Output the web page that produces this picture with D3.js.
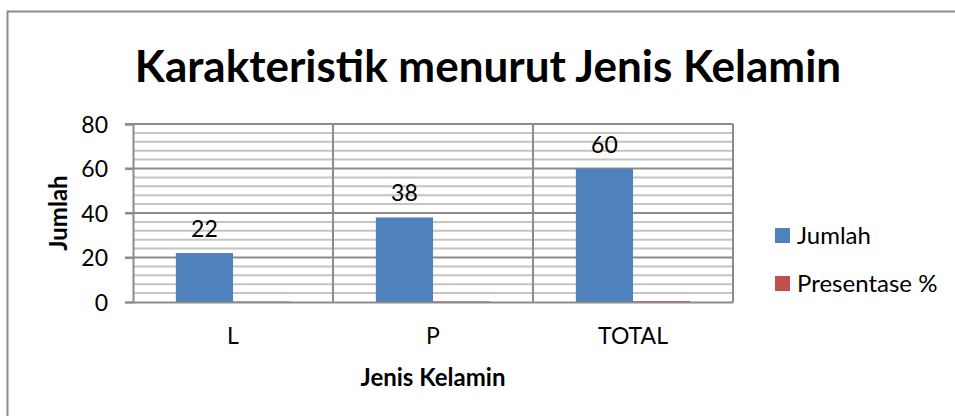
<!DOCTYPE html>
<html>
<head>
<meta charset="utf-8">
<script src="https://cdn.jsdelivr.net/npm/d3@7"></script>
<style>
  body { margin: 0; background: #fff; }
  svg text { font-family: Lato, "Liberation Sans", sans-serif; fill: #000; }
</style>
</head>
<body>
<div id="chart"></div>
<script>
// Data
var categories = ["L", "P", "TOTAL"];
var seriesNames = ["Jumlah", "Presentase %"];
var jumlah = [22, 38, 60];
var presentase = [0.2, 0.3, 0.4];   // tiny, barely visible at baseline
var yTicks = [0, 20, 40, 60, 80];
var colors = ["#4F81BD", "#C0504D"];

var W = 955, H = 416;
var margin = { top: 124, left: 133, right: 222, bottom: 114 };
var width = W - margin.left - margin.right,   // 600
  height = H - margin.top - margin.bottom;    // 178

var svg = d3.select("#chart")
  .append("svg")
  .attr("width", W)
  .attr("height", H);

// chart border
svg.append("rect")
  .attr("x", 7.5).attr("y", 11.5)
  .attr("width", W + 10).attr("height", H + 10)
  .attr("fill", "none")
  .attr("stroke", "#8c8c8c")
  .attr("stroke-width", 2);

// title
svg.append("text")
  .attr("x", 488)
  .attr("y", 82)
  .attr("text-anchor", "middle")
  .style("font-size", "44px")
  .style("font-weight", "bold")
  .text("Karakteristik menurut Jenis Kelamin");

var g = svg.append("g")
  .attr("transform", "translate(" + margin.left + "," + margin.top + ")");

var x0 = d3.scaleBand().domain(categories).range([0, width]).padding(0);
var x1 = d3.scaleBand().domain(seriesNames)
  .range([0, x0.bandwidth()])
  .paddingInner(0).paddingOuter(0.75);
var y = d3.scaleLinear().domain([0, 80]).range([height, 0]);

// minor gridlines every 4
var minor = d3.range(4, 80, 4).filter(function (v) { return v % 20 !== 0; });
g.selectAll(".minor")
  .data(minor)
  .enter().append("line")
  .attr("x1", 0).attr("x2", width)
  .attr("y1", function (d) { return y(d); })
  .attr("y2", function (d) { return y(d); })
  .attr("stroke", "#c4c4c4")
  .attr("stroke-width", 2);

// major gridlines
g.selectAll(".major")
  .data(yTicks.filter(function (d) { return d > 0; }))
  .enter().append("line")
  .attr("x1", -8).attr("x2", width)
  .attr("y1", function (d) { return y(d); })
  .attr("y2", function (d) { return y(d); })
  .attr("stroke", "#8c8c8c")
  .attr("stroke-width", 2);

// vertical category gridlines
g.selectAll(".vgrid")
  .data(categories.slice(1).concat(["end"]))
  .enter().append("line")
  .attr("x1", function (d, i) { return x0.bandwidth() * (i + 1); })
  .attr("x2", function (d, i) { return x0.bandwidth() * (i + 1); })
  .attr("y1", 0).attr("y2", height)
  .attr("stroke", "#8c8c8c")
  .attr("stroke-width", 2);

// bars
var rows = categories.map(function (c, i) {
  return { cat: c, values: [jumlah[i], presentase[i]] };
});
var groups = g.selectAll(".grp")
  .data(rows)
  .enter().append("g")
  .attr("transform", function (d) { return "translate(" + x0(d.cat) + ",0)"; });

groups.selectAll("rect")
  .data(function (d) { return d.values.map(function (v, j) { return { s: seriesNames[j], v: v, j: j }; }); })
  .enter().append("rect")
  .attr("x", function (d) { return x1(d.s); })
  .attr("width", x1.bandwidth())
  .attr("y", function (d) { return y(d.v); })
  .attr("height", function (d) { return height - y(d.v); })
  .attr("fill", function (d) { return colors[d.j]; });

// data labels on Jumlah
groups.append("text")
  .attr("x", function () { return x1("Jumlah") + x1.bandwidth() / 2; })
  .attr("y", function (d) { return y(d.values[0]) - 16; })
  .attr("text-anchor", "middle")
  .style("font-size", "23px")
  .text(function (d) { return d.values[0]; });

// y axis
var yAxis = g.append("g")
  .call(d3.axisLeft(y).tickValues(yTicks).tickSize(8).tickPadding(17));
yAxis.select(".domain").attr("stroke", "#8c8c8c").attr("stroke-width", 2);
yAxis.selectAll(".tick line").attr("stroke", "#8c8c8c").attr("stroke-width", 2);
yAxis.selectAll(".tick text")
  .style("font-size", "23px")
  .attr("dy", "0.35em");

// x axis
var xAxis = g.append("g")
  .attr("transform", "translate(0," + height + ")")
  .call(d3.axisBottom(x0).tickSize(0).tickPadding(26));
xAxis.select(".domain").attr("stroke", "#8c8c8c").attr("stroke-width", 2);
xAxis.selectAll(".tick text").style("font-size", "23px");

// axis titles
g.append("text")
  .attr("x", width / 2)
  .attr("y", height + 84)
  .attr("text-anchor", "middle")
  .style("font-size", "24px")
  .style("font-weight", "bold")
  .text("Jenis Kelamin");

g.append("text")
  .attr("transform", "rotate(-90)")
  .attr("x", -height / 2)
  .attr("y", -66)
  .attr("text-anchor", "middle")
  .style("font-size", "24px")
  .style("font-weight", "bold")
  .text("Jumlah");

// legend
var legend = svg.append("g").attr("transform", "translate(775,228)");
seriesNames.forEach(function (name, i) {
  var row = legend.append("g").attr("transform", "translate(0," + i * 48 + ")");
  row.append("rect").attr("width", 15).attr("height", 15).attr("fill", colors[i]);
  row.append("text")
    .attr("x", 22).attr("y", 16)
    .style("font-size", "24px")
    .text(name);
});
</script>
</body>
</html>
